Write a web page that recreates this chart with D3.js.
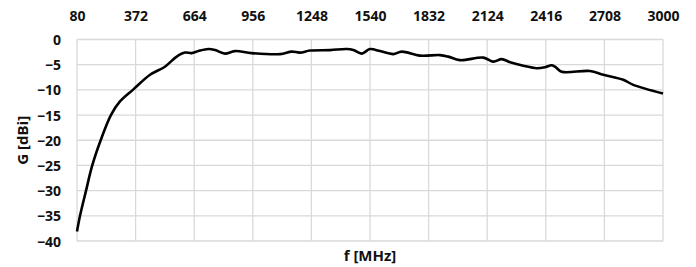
<!DOCTYPE html>
<html>
<head>
<meta charset="utf-8">
<script src="https://cdn.jsdelivr.net/npm/d3@7"></script>
<style>
	body { margin: 0; background: #fff; }
	svg text { font-family: 'Open Sans', Lato, sans-serif; font-weight: bold; fill: #111; }
	.grid line { stroke: #d9d9d9; stroke-width: 1.3; }
</style>
</head>
<body>
<svg id="chart"></svg>
<script>
// measured gain of the antenna
const freq = [80, 95, 125, 156, 198, 249, 294, 361, 444, 518, 577, 618, 651, 685, 734, 768, 817, 867, 950, 1092, 1150, 1191, 1241, 1341, 1424, 1457, 1499, 1540, 1590, 1656, 1698, 1789, 1889, 1930, 1988, 2105, 2155, 2196, 2238, 2304, 2371, 2412, 2445, 2462, 2495, 2636, 2703, 2802, 2852, 3000]
const gain = [-38.1, -35, -30, -25, -20, -15, -12.3, -9.9, -7.0, -5.4, -3.4, -2.6, -2.7, -2.3, -1.9, -2.1, -2.8, -2.3, -2.7, -2.9, -2.4, -2.6, -2.2, -2.1, -1.9, -2.1, -2.8, -1.9, -2.3, -2.9, -2.4, -3.2, -3.1, -3.4, -4.1, -3.6, -4.4, -3.9, -4.5, -5.2, -5.7, -5.5, -5.1, -5.4, -6.4, -6.25, -7.0, -8.0, -9.0, -10.7]
const xTicks = [80, 372, 664, 956, 1248, 1540, 1832, 2124, 2416, 2708, 3000]
const yTicks = [0, -5, -10, -15, -20, -25, -30, -35, -40]

const width = 696
const height = 267
const margin = { top: 39.5, right: 33, bottom: 26, left: 77 }

const svg = d3.select('#chart').attr('width', width).attr('height', height)

const xScale = d3.scaleLinear().domain([80, 3000]).range([margin.left, width - margin.right])
const yScale = d3.scaleLinear().domain([-40, 0]).range([height - margin.bottom, margin.top])

// grid
svg.append('g').attr('class', 'grid')
	.selectAll('line.v').data(xTicks).join('line')
	.attr('x1', d => xScale(d)).attr('x2', d => xScale(d))
	.attr('y1', yScale(0)).attr('y2', yScale(-40))
svg.append('g').attr('class', 'grid')
	.selectAll('line.h').data(yTicks).join('line')
	.attr('x1', xScale(80)).attr('x2', xScale(3000))
	.attr('y1', d => yScale(d)).attr('y2', d => yScale(d))

const xAxis = d3.axisTop(xScale).tickValues(xTicks).tickFormat(d3.format('d')).tickSize(0).tickPadding(0)
const yAxis = d3.axisLeft(yScale).tickValues(yTicks).tickFormat(d3.format('d')).tickSize(0).tickPadding(0)

svg.append('g')
	.attr('transform', 'translate(0,21)')
	.call(xAxis)
	.call(g => g.select('.domain').remove())
	.selectAll('text').attr('font-size', 14).attr('dy', 0)

svg.append('g')
	.attr('transform', `translate(${margin.left - 16},0)`)
	.call(yAxis)
	.call(g => g.select('.domain').remove())
	.selectAll('text').attr('font-size', 14).attr('dy', '0.36em')

svg.append('path')
	.datum(freq.map((f, i) => [f, gain[i]]))
	.attr('fill', 'none')
	.attr('stroke', '#000')
	.attr('stroke-width', 2.6)
	.attr('stroke-linejoin', 'round')
	.attr('d', d3.line().x(d => xScale(d[0])).y(d => yScale(d[1])).curve(d3.curveCatmullRom))

svg.append('text')
	.attr('x', (margin.left + width - margin.right) / 2)
	.attr('y', 261)
	.attr('text-anchor', 'middle')
	.attr('font-size', 15)
	.text('f [MHz]')

svg.append('text')
	.attr('transform', `translate(28,${(margin.top + height - margin.bottom) / 2}) rotate(-90)`)
	.attr('text-anchor', 'middle')
	.attr('font-size', 15)
	.text('G [dBi]')
</script>
</body>
</html>
